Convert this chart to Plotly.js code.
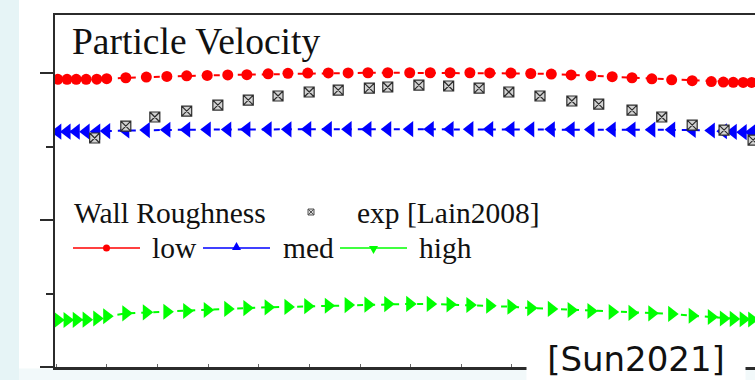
<!DOCTYPE html>
<html>
<head>
<meta charset="utf-8">
<script src="https://cdn.plot.ly/plotly-3.0.1.min.js"></script>
<style>
  html, body { margin: 0; padding: 0; background: #e6f4f6; overflow: hidden; width: 755px; height: 380px; }
  #chart { position: absolute; left: 19px; top: 0; width: 751px; height: 380px; }
</style>
</head>
<body>
<div id="chart"></div>
<script>
// ---- data (normalised position across the channel, velocity) ----
const positions = [0.004,0.017,0.030,0.044,0.059,0.073,0.100,0.129,0.158,0.186,0.215,0.244,0.271,0.301,0.329,0.357,0.386,0.414,0.442,0.470,0.501,0.530,0.558,0.586,0.614,0.644,0.672,0.701,0.729,0.757,0.787,0.815,0.843,0.871,0.900,0.927,0.944,0.958,0.972,0.984,0.997];
const velLow  = [1.957,1.957,1.957,1.957,1.958,1.962,1.968,1.973,1.977,1.981,1.984,1.987,1.989,1.995,1.998,2.000,2.001,2.001,2.002,2.002,2.002,2.002,2.002,2.002,2.001,2.000,1.997,1.993,1.987,1.981,1.975,1.968,1.961,1.954,1.948,1.942,1.939,1.937,1.936,1.936,1.936];
const velMed  = [1.601,1.601,1.601,1.601,1.602,1.605,1.609,1.612,1.614,1.615,1.616,1.616,1.617,1.617,1.617,1.618,1.618,1.618,1.618,1.618,1.618,1.618,1.618,1.618,1.618,1.618,1.617,1.617,1.617,1.616,1.616,1.616,1.615,1.615,1.613,1.609,1.604,1.600,1.598,1.597,1.597];
const velHigh = [0.320,0.320,0.321,0.322,0.330,0.345,0.365,0.372,0.376,0.381,0.388,0.395,0.401,0.406,0.409,0.414,0.417,0.421,0.424,0.428,0.429,0.429,0.425,0.422,0.417,0.410,0.401,0.395,0.388,0.381,0.374,0.368,0.365,0.361,0.349,0.340,0.330,0.327,0.325,0.323,0.322];
const expPos  = [0.056,0.100,0.141,0.186,0.230,0.273,0.315,0.359,0.400,0.444,0.470,0.514,0.556,0.599,0.641,0.685,0.730,0.768,0.815,0.857,0.900,0.945,0.986];
const expVel  = [1.558,1.639,1.701,1.741,1.782,1.816,1.844,1.871,1.884,1.898,1.905,1.918,1.912,1.898,1.871,1.844,1.810,1.789,1.748,1.701,1.646,1.612,1.544];
const seriesNames = ['low','med','high'];
const seriesColors = ['#ff0000','#0000ff','#00ff00'];
const legendTitle = 'Wall Roughness';
const expName = 'exp [Lain2008]';
const chartTitle = 'Particle Velocity';
const sourceNote = '[Sun2021]';

// ---- helpers: plot-area pixel -> paper coordinates ----
const L = 55, T = 15, W = 708, H = 352;
const PX = x => (x - L) / W;
const PY = y => (T + H - y) / H;

const lineStyle = c => ({color: c, width: 2, dash: '6px,6px'});
const traces = [
  {x: positions, y: velLow, name: seriesNames[0], mode: 'lines+markers', line: lineStyle(seriesColors[0]),
   marker: {symbol: 'circle', size: 11, color: seriesColors[0]}},
  {x: positions, y: velMed, name: seriesNames[1], mode: 'lines+markers', line: lineStyle(seriesColors[1]),
   marker: {symbol: 'triangle-left', size: 14, color: seriesColors[1]}},
  {x: positions, y: velHigh, name: seriesNames[2], mode: 'lines+markers', line: lineStyle(seriesColors[2]),
   marker: {symbol: 'triangle-right', size: 14, color: seriesColors[2]}},
  {x: expPos, y: expVel, name: expName, mode: 'markers',
   marker: {symbol: 'square-x', size: 10, color: '#d2d2d2', line: {color: '#2e2e2e', width: 1.2}}}
];

// ---- legend built from shapes + annotations ----
const shapes = [];
const annotations = [];
const txtFont = {family: 'Liberation Serif, Times New Roman, serif', size: 29.5, color: '#111'};
function addText(text, x, y, font, extra) {
  annotations.push(Object.assign({text: text, xref: 'paper', yref: 'paper', x: PX(x), y: PY(y),
    xanchor: 'left', yanchor: 'middle', showarrow: false, font: font}, extra || {}));
}
addText(chartTitle, 70, 41, {family: 'Liberation Serif, Times New Roman, serif', size: 37.5, color: '#111'});
addText(legendTitle, 72, 213, txtFont);
addText(expName, 355, 213, txtFont);
// exp legend marker
const ex = 311, ey = 212, es = 3;
shapes.push({type: 'rect', xref: 'paper', yref: 'paper', x0: PX(ex-es), x1: PX(ex+es), y0: PY(ey+es), y1: PY(ey-es),
  fillcolor: '#d6d6d6', line: {color: '#555', width: 1}});
shapes.push({type: 'path', xref: 'paper', yref: 'paper',
  path: `M${PX(ex-es)},${PY(ey-es)}L${PX(ex+es)},${PY(ey+es)}M${PX(ex-es)},${PY(ey+es)}L${PX(ex+es)},${PY(ey-es)}`,
  line: {color: '#555', width: 1}});
const legStarts = [73, 203, 340];
const textStarts = [150, 281, 417];
const ly = 248;
for (let i = 0; i < 3; i++) {
  const x0 = legStarts[i], x1 = x0 + 67, xm = (x0 + x1) / 2, c = seriesColors[i];
  shapes.push({type: 'line', xref: 'paper', yref: 'paper', x0: PX(x0), x1: PX(x1), y0: PY(ly), y1: PY(ly),
    line: {color: c, width: 1.5}});
  if (i === 0) {
    shapes.push({type: 'circle', xref: 'paper', yref: 'paper', x0: PX(xm-3.5), x1: PX(xm+3.5), y0: PY(ly+3.5), y1: PY(ly-3.5),
      fillcolor: c, line: {color: c, width: 0}});
  } else if (i === 1) {
    shapes.push({type: 'path', xref: 'paper', yref: 'paper',
      path: `M${PX(xm-4.5)},${PY(ly+2)}L${PX(xm+4.5)},${PY(ly+2)}L${PX(xm)},${PY(ly-6)}Z`, fillcolor: c, line: {color: c, width: 0}});
  } else {
    shapes.push({type: 'path', xref: 'paper', yref: 'paper',
      path: `M${PX(xm-4.5)},${PY(ly-2)}L${PX(xm+4.5)},${PY(ly-2)}L${PX(xm)},${PY(ly+6)}Z`, fillcolor: c, line: {color: c, width: 0}});
  }
  addText(seriesNames[i], textStarts[i], ly, txtFont);
}
// light slide strip below the figure
shapes.push({type: 'rect', xref: 'paper', yref: 'paper', layer: 'below', x0: -0.1, x1: 1.1, y0: PY(368.5), y1: PY(381),
  fillcolor: '#f2f9fa', line: {width: 0}});
// source note covering the axis line
annotations.push({text: sourceNote, xref: 'paper', yref: 'paper', x: PX(636), y: PY(359), xanchor: 'center', yanchor: 'middle',
  showarrow: false, bgcolor: '#ffffff', width: 214, height: 40, borderpad: 2,
  font: {family: 'DejaVu Sans, sans-serif', size: 34, color: '#111'}});

const layout = {
  width: 751, height: 380,
  margin: {l: 36, r: 7, t: 15, b: 13},
  paper_bgcolor: '#ffffff', plot_bgcolor: '#ffffff',
  showlegend: false,
  xaxis: {range: [0, 1], showline: true, mirror: true, linecolor: '#2b2b2b', linewidth: 2.5,
    showgrid: false, zeroline: false, showticklabels: false,
    ticks: 'inside', tick0: 0.0734, dtick: 0.0715, ticklen: 3, tickwidth: 1, tickcolor: '#666'},
  yaxis: {range: [0, 2.395], showline: true, mirror: true, linecolor: '#2b2b2b', linewidth: 2.5,
    showgrid: false, zeroline: false, showticklabels: false,
    ticks: 'outside', tick0: 0, dtick: 1, ticklen: 13, tickwidth: 2, tickcolor: '#2b2b2b',
    minor: {ticks: 'outside', dtick: 0.5, ticklen: 7, tickwidth: 2, tickcolor: '#2b2b2b', showgrid: false}},
  shapes: shapes,
  annotations: annotations
};
Plotly.newPlot('chart', traces, layout, {displayModeBar: false, staticPlot: true});
</script>
</body>
</html>
